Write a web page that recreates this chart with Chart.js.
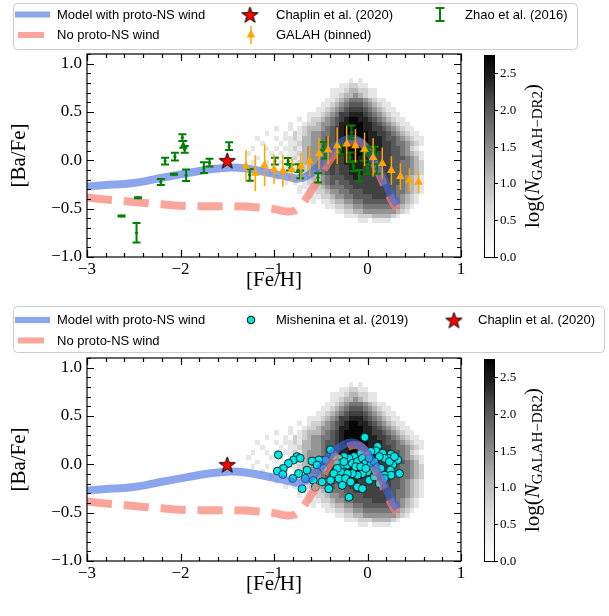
<!DOCTYPE html>
<html>
<head>
<meta charset="utf-8">
<script src="https://cdn.jsdelivr.net/npm/chart.js@4.4.0/dist/chart.umd.min.js"></script>
<style>
html, body { margin: 0; padding: 0; background: #fff; width: 609px; height: 616px; overflow: hidden; }
.panel { position: absolute; left: 0; width: 609px; height: 305px; }
#p1 { top: 0; }
#p2 { top: 304px; }
</style>
</head>
<body>
<div class="panel" id="p1"><canvas id="c1" width="609" height="305"></canvas></div>
<div class="panel" id="p2"><canvas id="c2" width="609" height="305"></canvas></div>
<script>
// axis ticks
const feTicks = [-3, -2, -1, 0, 1];
const baTicks = [-1.0, -0.5, 0.0, 0.5, 1.0];
const cbTicks = [0.0, 0.5, 1.0, 1.5, 2.0, 2.5];
const cbMax = 2.76;

// GCE model tracks
const windFe = [-3.0, -2.8, -2.6, -2.4, -2.2, -2.0, -1.8, -1.6, -1.45, -1.3, -1.15, -1.0, -0.85, -0.75, -0.65, -0.55, -0.45, -0.35, -0.25, -0.17, -0.1, -0.03, 0.05, 0.12, 0.2, 0.26, 0.32];
const windBa = [-0.27, -0.255, -0.245, -0.22, -0.18, -0.145, -0.11, -0.085, -0.075, -0.085, -0.11, -0.14, -0.17, -0.19, -0.165, -0.09, 0.03, 0.14, 0.205, 0.225, 0.205, 0.15, 0.03, -0.09, -0.25, -0.37, -0.46];
const noWindFe = [-3.0, -2.8, -2.6, -2.4, -2.2, -2.0, -1.8, -1.6, -1.4, -1.2, -1.0, -0.9, -0.84, -0.78, -0.73, -0.68, -0.62, -0.55, -0.48, -0.42, -0.35, -0.28, -0.2, -0.13, -0.06, 0.0, 0.06, 0.12, 0.18, 0.24, 0.3, 0.32];
const noWindBa = [-0.385, -0.405, -0.42, -0.44, -0.455, -0.47, -0.475, -0.475, -0.475, -0.485, -0.505, -0.525, -0.53, -0.52, -0.485, -0.43, -0.34, -0.24, -0.12, -0.02, 0.07, 0.14, 0.185, 0.2, 0.175, 0.1, -0.01, -0.13, -0.26, -0.38, -0.48, -0.5];

// Chaplin et al. (2020)
const chaplinFe = [-1.5];
const chaplinBa = [0.0];

// GALAH binned
const galahFe = [-1.30, -1.20, -1.10, -1.00, -0.906, -0.809, -0.712, -0.619, -0.518, -0.421, -0.324, -0.223, -0.129, -0.032, 0.06, 0.158, 0.255, 0.352, 0.449, 0.546];
const galahBa = [-0.06, -0.133, -0.05, -0.093, -0.11, -0.098, -0.062, -0.007, 0.068, 0.108, 0.15, 0.168, 0.15, 0.114, 0.03, -0.032, -0.105, -0.168, -0.203, -0.226];
const galahErr = [0.164, 0.185, 0.216, 0.155, 0.164, 0.129, 0.135, 0.155, 0.164, 0.147, 0.19, 0.19, 0.173, 0.173, 0.198, 0.164, 0.147, 0.138, 0.121, 0.112];

// Zhao et al. (2016)
const zhaoFe = [-2.63, -2.455, -2.47, -2.21, -2.165, -2.06, -2.07, -1.98, -1.97, -1.955, -1.94, -1.75, -1.69, -1.48, -1.26, -0.99, -0.85, -0.83, -0.74, -0.72, -0.53, -0.47, -0.45, -0.29, -0.17, -0.19, -0.15, -0.09, -0.04, 0.0, 0.01, 0.08, 0.1];
const zhaoBa = [-0.576, -0.386, -0.749, -0.224, -0.007, 0.038, -0.145, 0.235, 0.166, 0.114, -0.155, -0.076, -0.024, 0.148, -0.15, -0.007, -0.007, -0.076, -0.08, -0.145, -0.18, 0.15, 0.06, 0.11, 0.29, 0.03, -0.06, -0.16, 0.045, -0.09, 0.1, 0.1, -0.09];
const zhaoErr = [0.005, 0.005, 0.1, 0.03, 0.035, 0.04, 0.005, 0.035, 0.035, 0.035, 0.06, 0.055, 0.04, 0.04, 0.06, 0.035, 0.03, 0.03, 0.04, 0.04, 0.05, 0.04, 0.04, 0.05, 0.07, 0.05, 0.05, 0.06, 0.05, 0.05, 0.04, 0.04, 0.05];

// Mishenina et al. (2019)
const misFe = [-0.029, -0.396, 0.108, 0.09, 0.162, 0.252, 0.216, 0.324, 0.27, 0.245, 0.342, 0.252, 0.18, 0.126, 0.036, 0.0, -0.072, -0.144, -0.198, -0.252, -0.306, -0.36, -0.324, -0.27, -0.216, -0.162, -0.108, -0.054, -0.018, 0.036, 0.072, 0.108, 0.054, 0.0, -0.054, -0.108, -0.162, -0.216, -0.288, -0.324, -0.36, -0.306, -0.234, -0.18, -0.108, -0.054, 0.018, 0.072, 0.144, 0.18, -0.45, -0.52, -0.593, -0.54, -0.647, -0.737, -0.755, -0.79, -0.72, -0.665, -0.58, -0.558, -0.70, -0.414, -0.198, -0.468, -0.396, -0.486, -0.27, 0.126, 0.18, 0.234, 0.288, 0.09, 0.018, -0.126, -0.072, -0.018, -0.252, -0.954, -0.846, -0.9, -0.964, -0.906, -0.8];
const misBa = [0.28, 0.15, 0.185, 0.14, 0.115, 0.105, 0.063, 0.045, -0.007, -0.06, -0.095, -0.112, 0.063, 0.08, 0.133, 0.098, 0.115, 0.08, 0.063, 0.08, 0.063, 0.08, 0.01, -0.025, -0.007, 0.01, 0.028, 0.063, 0.01, -0.007, 0.028, -0.025, -0.06, -0.077, -0.095, -0.112, -0.095, -0.095, -0.077, -0.042, -0.095, -0.147, -0.147, -0.182, -0.235, -0.252, -0.165, -0.13, -0.042, -0.112, 0.045, 0.045, 0.034, -0.007, -0.06, -0.095, 0.08, 0.045, 0.063, -0.147, -0.165, -0.235, -0.252, -0.252, -0.34, -0.042, -0.165, -0.182, -0.217, -0.2, -0.147, 0.028, 0.08, -0.077, 0.063, -0.025, -0.025, -0.042, 0.028, 0.098, 0.01, -0.042, -0.07, -0.105, -0.147];

// GALAH-DR2 2D histogram: bins of 0.05 dex, Fe/H from -1.35, Ba/Fe from 0.85 downwards
const histFeStart = -1.35;
const histBaTop = 0.85;
const histBin = 0.05;
const histLevels = [0, 0.5, 0.8, 1.1, 1.4, 1.7, 2.0, 2.2, 2.45, 2.7];
const histRows = [
  "0000000000 0000000000 0001010000 0000000000",
  "0000000000 0000000000 0112211000 0000000000",
  "0000000000 0000000001 1123322110 0000000000",
  "0000000000 0000000001 1233432110 0000000000",
  "0000000000 0000000011 2345554321 1000000000",
  "0000000000 0000000112 3456665432 1100000000",
  "0000000000 0000001123 4567776543 2110000000",
  "0000000000 0000111234 5778887654 3211000000",
  "0000000000 0010122345 6789988765 4321100000",
  "0000000000 1001223445 6889998876 5432110000",
  "0000000100 1012333456 7899998877 6543211000",
  "0000010001 0212344556 7899999887 7654321100",
  "0001000101 1213344566 7899999888 7665432110",
  "0000100010 1123344566 7889999888 7765543210",
  "0010010101 1213444567 7889999888 7766542100",
  "0100001010 1123444567 7889998887 7766543210",
  "0001000101 1213444567 7788988877 7766654310",
  "0010010010 1123344567 7788888777 7766554320",
  "0000100001 0112344567 6778887777 7766554320",
  "0000001001 0112334567 6778887777 7766554320",
  "0000000100 1011233456 6677877777 7766543210",
  "0000000001 0101223456 5667777777 7766543210",
  "0000000000 0011122345 5566777777 7765543210",
  "0000000000 0010112234 4556667777 7765543210",
  "0000000000 0000111223 4455666677 7665432100",
  "0000000000 0000010112 3344556666 6655432100",
  "0000000000 0000000011 2233445555 5554321000",
  "0000000000 0000000000 1122334444 4443210000",
  "0000000000 0000000000 0011122233 3321000000",
  "0000000000 0000000000 0000011011 1100000000"
].map(r => r.replace(/ /g, ''));

const windColor = 'rgba(65,105,225,0.6)';
const noWindColor = 'rgba(250,128,114,0.7)';
const greyStops = [255, 240, 217, 189, 150, 115, 82, 37, 0];

Chart.defaults.font.family = '"Liberation Serif", serif';
Chart.defaults.color = '#000';

function pts(xs, ys) {
  return xs.map((x, i) => ({x: x, y: ys[i]}));
}

function fmt(v, d) {
  return (v < -1e-9 ? '\u2212' : '') + Math.abs(v).toFixed(d);
}

function greys(t) {
  t = Math.min(1, Math.max(0, t));
  const p = t * 8;
  const i = Math.min(7, Math.floor(p));
  const v = Math.round(greyStops[i] + (greyStops[i + 1] - greyStops[i]) * (p - i));
  return 'rgb(' + v + ',' + v + ',' + v + ')';
}

function makeStar(size) {
  const c = document.createElement('canvas');
  c.width = c.height = size;
  const g = c.getContext('2d');
  const cx = size / 2, cy = size / 2 + size * 0.05;
  const R = size / 2 - 1, r = R * 0.4;
  g.beginPath();
  for (let i = 0; i < 10; i++) {
    const a = -Math.PI / 2 + i * Math.PI / 5;
    const rad = i % 2 ? r : R;
    g.lineTo(cx + rad * Math.cos(a), cy + rad * Math.sin(a));
  }
  g.closePath();
  g.fillStyle = 'red';
  g.fill();
  g.lineWidth = 1;
  g.strokeStyle = '#000';
  g.stroke();
  return c;
}
const star = makeStar(19);

const hist2d = {
  id: 'hist2d',
  beforeDatasetsDraw(chart) {
    const {x, y} = chart.scales;
    const ctx = chart.ctx;
    const a = chart.chartArea;
    ctx.save();
    ctx.beginPath();
    ctx.rect(a.left, a.top, a.right - a.left, a.bottom - a.top);
    ctx.clip();
    histRows.forEach((row, r) => {
      const b1 = histBaTop - r * histBin;
      const y1 = Math.round(y.getPixelForValue(b1));
      const y0 = Math.round(y.getPixelForValue(b1 - histBin));
      for (let c = 0; c < row.length; c++) {
        const d = +row[c];
        if (!d) continue;
        const f0 = histFeStart + c * histBin;
        const x0 = Math.round(x.getPixelForValue(f0));
        const x1 = Math.round(x.getPixelForValue(f0 + histBin));
        ctx.fillStyle = greys(histLevels[d] / cbMax);
        ctx.fillRect(x0, y1, x1 - x0, y0 - y1);
      }
    });
    ctx.restore();
  }
};

const errorBars = {
  id: 'errorBars',
  beforeDatasetDraw(chart, args) {
    const ds = chart.data.datasets[args.index];
    if (!ds.errBar) return;
    const {x, y} = chart.scales;
    const ctx = chart.ctx;
    const a = chart.chartArea;
    ctx.save();
    ctx.beginPath();
    ctx.rect(a.left, a.top, a.right - a.left, a.bottom - a.top);
    ctx.clip();
    ctx.strokeStyle = ds.errColor;
    ctx.lineWidth = ds.errWidth;
    ds.data.forEach((p, i) => {
      const px = x.getPixelForValue(p.x);
      const top = y.getPixelForValue(p.y + ds.errBar[i]);
      const bot = y.getPixelForValue(p.y - ds.errBar[i]);
      ctx.beginPath();
      ctx.moveTo(px, top);
      ctx.lineTo(px, bot);
      if (ds.cap) {
        ctx.moveTo(px - ds.cap, top);
        ctx.lineTo(px + ds.cap, top);
        ctx.moveTo(px - ds.cap, bot);
        ctx.lineTo(px + ds.cap, bot);
      }
      ctx.stroke();
    });
    ctx.restore();
  }
};

const frameTicks = {
  id: 'frameTicks',
  afterDatasetsDraw(chart) {
    const {x, y} = chart.scales;
    const a = chart.chartArea;
    const ctx = chart.ctx;
    ctx.save();
    ctx.strokeStyle = '#000';
    ctx.lineWidth = 1.2;
    ctx.beginPath();
    for (let i = 0; i <= 20; i++) {
      const v = -3 + i * 0.2;
      const px = Math.round(x.getPixelForValue(v)) + 0.5;
      const L = i % 5 === 0 ? 7 : 4;
      ctx.moveTo(px, a.bottom); ctx.lineTo(px, a.bottom - L);
      ctx.moveTo(px, a.top); ctx.lineTo(px, a.top + L);
    }
    for (let i = 0; i <= 21; i++) {
      const v = -1 + i * 0.1;
      const py = Math.round(y.getPixelForValue(v)) + 0.5;
      const L = i % 5 === 0 ? 7 : 4;
      ctx.moveTo(a.left, py); ctx.lineTo(a.left + L, py);
      ctx.moveTo(a.right, py); ctx.lineTo(a.right - L, py);
    }
    ctx.stroke();
    ctx.strokeRect(a.left, a.top, a.right - a.left, a.bottom - a.top);
    ctx.restore();
  }
};

const colorBar = {
  id: 'colorBar',
  afterDraw(chart) {
    const s = chart.scales.cb;
    const ctx = chart.ctx;
    const left = 484, w = 10;
    const top = s.getPixelForValue(cbMax) + 1, bot = s.getPixelForValue(0);
    ctx.save();
    const g = ctx.createLinearGradient(0, bot, 0, top);
    greyStops.forEach((v, i) => g.addColorStop(i / 8, 'rgb(' + v + ',' + v + ',' + v + ')'));
    ctx.fillStyle = g;
    ctx.fillRect(left, top, w, bot - top);
    ctx.strokeStyle = '#000';
    ctx.lineWidth = 1;
    ctx.strokeRect(left + 0.5, top + 0.5, w, bot - top);
    ctx.font = '13px "Liberation Serif"';
    ctx.fillStyle = '#000';
    ctx.textBaseline = 'middle';
    ctx.textAlign = 'left';
    cbTicks.forEach(v => {
      const py = Math.round(s.getPixelForValue(v)) + 0.5;
      ctx.beginPath();
      ctx.moveTo(left + w, py);
      ctx.lineTo(left + w + 4, py);
      ctx.stroke();
      ctx.fillText(v.toFixed(1), left + w + 6, py);
    });
    // colourbar label, rotated
    ctx.translate(533, (top + bot) / 2);
    ctx.rotate(-Math.PI / 2);
    const big = '21px "Liberation Serif"', ital = 'italic 21px "Liberation Serif"', small = '15px "Liberation Serif"';
    const parts = [['log(', big, 0], ['N', ital, 0], ['GALAH\u2212DR2', small, 5], [')', big, 0]];
    let total = 0;
    parts.forEach(p => { ctx.font = p[1]; total += ctx.measureText(p[0]).width; });
    let cx = -total / 2;
    parts.forEach(p => {
      ctx.font = p[1];
      ctx.fillText(p[0], cx, p[2]);
      cx += ctx.measureText(p[0]).width;
    });
    ctx.restore();
  }
};

function drawHandle(ctx, it) {
  ctx.save();
  if (it.kind === 'line') {
    ctx.fillStyle = it.color;
    ctx.fillRect(it.x0, it.y - 3, it.x1 - it.x0, 6);
  } else if (it.kind === 'star') {
    ctx.drawImage(star, it.x - star.width / 2, it.y - star.height / 2);
  } else if (it.kind === 'tri') {
    ctx.strokeStyle = 'orange';
    ctx.lineWidth = 1.5;
    ctx.beginPath();
    ctx.moveTo(it.x, it.y - 9);
    ctx.lineTo(it.x, it.y + 9);
    ctx.stroke();
    ctx.fillStyle = 'orange';
    ctx.beginPath();
    ctx.moveTo(it.x, it.y - 5);
    ctx.lineTo(it.x + 4.3, it.y + 2.5);
    ctx.lineTo(it.x - 4.3, it.y + 2.5);
    ctx.closePath();
    ctx.fill();
  } else if (it.kind === 'err') {
    ctx.strokeStyle = 'green';
    ctx.lineWidth = 2;
    ctx.beginPath();
    ctx.moveTo(it.x, it.y - 6.5); ctx.lineTo(it.x, it.y + 6.5);
    ctx.moveTo(it.x - 4.5, it.y - 6.5); ctx.lineTo(it.x + 4.5, it.y - 6.5);
    ctx.moveTo(it.x - 4.5, it.y + 6.5); ctx.lineTo(it.x + 4.5, it.y + 6.5);
    ctx.stroke();
  } else if (it.kind === 'circle') {
    ctx.fillStyle = 'rgb(0,230,230)';
    ctx.strokeStyle = '#000';
    ctx.lineWidth = 1;
    ctx.beginPath();
    ctx.arc(it.x, it.y, 3.8, 0, Math.PI * 2);
    ctx.fill();
    ctx.stroke();
  }
  ctx.restore();
}

function makeLegend(box, items) {
  return {
    id: 'boxLegend',
    afterDraw(chart) {
      const ctx = chart.ctx;
      const [x0, y0, x1, y1] = box;
      ctx.save();
      ctx.beginPath();
      ctx.roundRect(x0 + 0.5, y0 + 0.5, x1 - x0, y1 - y0, 4);
      ctx.fillStyle = 'rgba(255,255,255,0.8)';
      ctx.fill();
      ctx.strokeStyle = '#cccccc';
      ctx.lineWidth = 1;
      ctx.stroke();
      items.forEach(it => {
        drawHandle(ctx, it);
        ctx.font = '13px "Liberation Sans"';
        ctx.fillStyle = '#000';
        ctx.textBaseline = 'middle';
        ctx.fillText(it.text, it.tx, it.y + 0.5);
      });
      ctx.restore();
    }
  };
}

function lineSets() {
  return [
    {label: 'Model with proto-NS wind', data: pts(windFe, windBa), showLine: true, pointRadius: 0,
     borderColor: windColor, borderWidth: 8, tension: 0.4, order: 3},
    {label: 'No proto-NS wind', data: pts(noWindFe, noWindBa), showLine: true, pointRadius: 0,
     borderColor: noWindColor, borderWidth: 8, borderDash: [25, 12], tension: 0.4, order: 4}
  ];
}

function starSet() {
  return {label: 'Chaplin et al. (2020)', data: pts(chaplinFe, chaplinBa), pointStyle: star, pointRadius: 9, order: 0};
}

function panelConfig(datasets, legendPlugin) {
  return {
    type: 'scatter',
    data: {datasets: datasets.map(d => Object.assign({xAxisID: 'x', yAxisID: 'y'}, d))},
    options: {
      responsive: false,
      animation: false,
      events: [],
      layout: {padding: {left: 0, top: 54, right: 148, bottom: 0}},
      plugins: {legend: {display: false}, tooltip: {enabled: false}},
      scales: {
        x: {
          type: 'linear', min: -3, max: 1,
          grid: {display: false, drawTicks: false}, border: {display: false},
          afterBuildTicks: s => { s.ticks = feTicks.map(v => ({value: v})); },
          afterFit: s => { s.height = 48; },
          ticks: {padding: 2, font: {size: 17}, maxRotation: 0, autoSkip: false, callback: v => fmt(v, 0)},
          title: {display: true, text: '[Fe/H]', font: {size: 21}, padding: {top: 0, bottom: 12}}
        },
        y: {
          type: 'linear', min: -1, max: 1.1,
          grid: {display: false, drawTicks: false}, border: {display: false},
          afterBuildTicks: s => { s.ticks = baTicks.map(v => ({value: v})); },
          afterFit: s => { s.width = 87; },
          ticks: {padding: 5, font: {size: 17}, autoSkip: false, callback: v => fmt(v, 1)},
          title: {display: true, text: '[Ba/Fe]', font: {size: 21}, padding: {top: 7, bottom: 0}}
        },
        cb: {type: 'linear', axis: 'y', position: 'right', display: false, min: 0, max: cbMax}
      }
    },
    plugins: [hist2d, errorBars, frameTicks, colorBar, legendPlugin]
  };
}

// top panel
const topSets = [
  starSet(),
  {label: 'GALAH (binned)', data: pts(galahFe, galahBa), pointStyle: 'triangle', pointRadius: 5,
   backgroundColor: 'orange', borderColor: 'orange', borderWidth: 0,
   errBar: galahErr, errColor: 'orange', errWidth: 1.5, cap: 0, order: 1},
  {label: 'Zhao et al. (2016)', data: pts(zhaoFe, zhaoBa), pointStyle: 'circle', pointRadius: 1.6,
   backgroundColor: 'green', borderColor: 'green', borderWidth: 0,
   errBar: zhaoErr, errColor: 'green', errWidth: 2, cap: 4, order: 2}
].concat(lineSets());

new Chart(document.getElementById('c1'), panelConfig(topSets, makeLegend([13, 3, 577, 49], [
  {kind: 'line', color: windColor, x0: 15, x1: 50, y: 14.5, tx: 57, text: 'Model with proto-NS wind'},
  {kind: 'line', color: noWindColor, x0: 18, x1: 44, y: 35, tx: 57, text: 'No proto-NS wind'},
  {kind: 'star', x: 250, y: 14.5, tx: 276, text: 'Chaplin et al. (2020)'},
  {kind: 'tri', x: 251, y: 35, tx: 276, text: 'GALAH (binned)'},
  {kind: 'err', x: 440, y: 14.5, tx: 465, text: 'Zhao et al. (2016)'}
])));

// bottom panel
const bottomSets = [
  starSet(),
  {label: 'Mishenina et al. (2019)', data: pts(misFe, misBa), pointStyle: 'circle', pointRadius: 4,
   backgroundColor: 'rgb(0,230,230)', borderColor: '#000', borderWidth: 0.8, order: 5}
].concat(lineSets());

new Chart(document.getElementById('c2'), panelConfig(bottomSets, makeLegend([13, 2, 604, 48], [
  {kind: 'line', color: windColor, x0: 15, x1: 50, y: 16, tx: 57, text: 'Model with proto-NS wind'},
  {kind: 'line', color: noWindColor, x0: 18, x1: 44, y: 36.5, tx: 57, text: 'No proto-NS wind'},
  {kind: 'circle', x: 251, y: 16, tx: 276, text: 'Mishenina et al. (2019)'},
  {kind: 'star', x: 454, y: 16, tx: 478, text: 'Chaplin et al. (2020)'}
])));
</script>
</body>
</html>
